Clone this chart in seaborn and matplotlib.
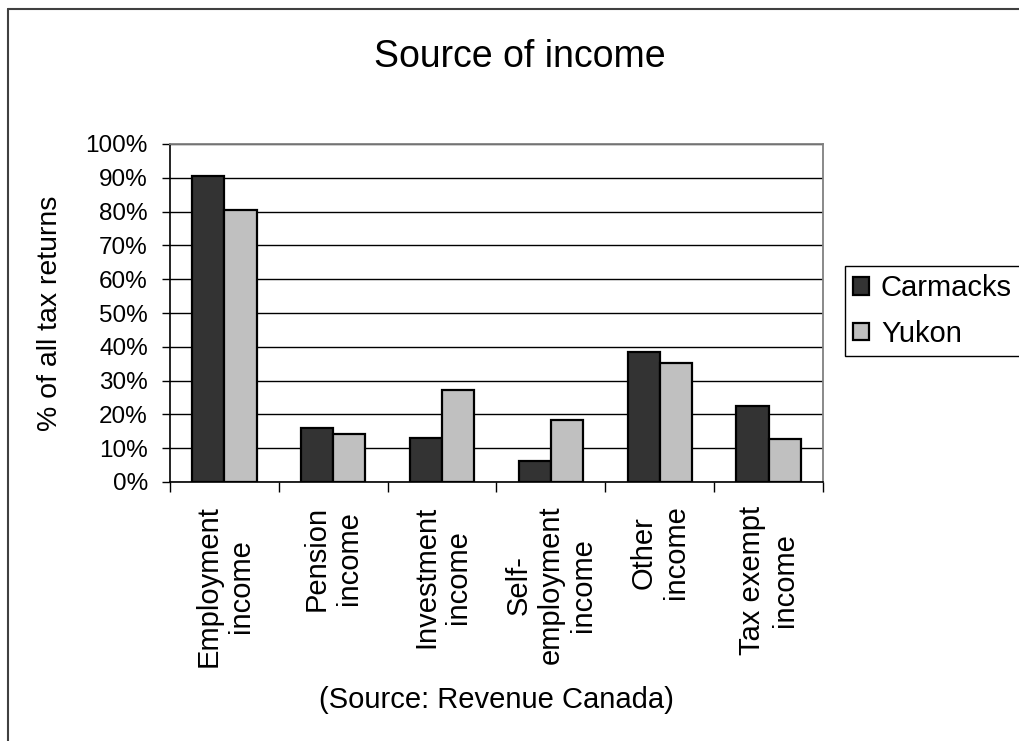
import seaborn as sns
import pandas as pd
import matplotlib.pyplot as plt
from matplotlib.lines import Line2D
from matplotlib.ticker import FuncFormatter, FixedLocator

categories = [
    "Employment\nincome",
    "Pension\nincome",
    "Investment\nincome",
    "Self-\nemployment\nincome",
    "Other\nincome",
    "Tax exempt\nincome",
]
carmacks = [90.4, 15.9, 12.9, 6.3, 38.4, 22.4]
yukon = [80.5, 14.2, 27.2, 18.3, 35.3, 12.8]
regions = ["Carmacks", "Yukon"]
colors = ["#333333", "#c0c0c0"]

df = pd.DataFrame({
    "category": categories * 2,
    "region": [regions[0]] * len(categories) + [regions[1]] * len(categories),
    "value": carmacks + yukon,
})

sns.set_style("white")
plt.rcParams["font.family"] = ["Liberation Sans", "DejaVu Sans"]
plt.rcParams.update({
    "text.color": "black",
    "axes.labelcolor": "black",
    "xtick.color": "black",
    "ytick.color": "black",
})

fig = plt.figure(figsize=(10.2, 7.41), dpi=100)
ax = fig.add_axes([170 / 1020, 259 / 741, 653 / 1020, 338 / 741])

sns.barplot(
    data=df, x="category", y="value", hue="region",
    palette=colors, edgecolor="black", linewidth=1.6,
    width=0.59, errorbar=None, ax=ax,
)

ax.set_xlim(-0.5, 5.5)
ax.set_ylim(0, 100)
ax.set_axisbelow(True)

# y axis
ax.set_yticks(range(0, 101, 10))
ax.yaxis.set_major_formatter(FuncFormatter(lambda v, p: f"{int(v)}%"))
ax.tick_params(axis="y", which="major", direction="out", length=6, width=1,
               color="black", pad=10, labelsize=17.5, left=True)
ax.yaxis.grid(True, color="black", linewidth=1)
ax.xaxis.grid(False)

# x axis: labels at centres, ticks at boundaries
ax.tick_params(axis="x", which="major", length=0, pad=17, labelsize=21,
               labelrotation=90)
ax.xaxis.set_minor_locator(FixedLocator([i - 0.5 for i in range(len(categories) + 1)]))
ax.tick_params(axis="x", which="minor", direction="out", length=7, width=1,
               color="black", bottom=True)
for lbl in ax.get_xticklabels():
    lbl.set_multialignment("center")

for side in ["top", "right"]:
    ax.spines[side].set_color("#808080")
    ax.spines[side].set_linewidth(1.3)
for side in ["left", "bottom"]:
    ax.spines[side].set_color("black")
    ax.spines[side].set_linewidth(1.2)

ax.set_xlabel("(Source: Revenue Canada)", fontsize=21)
ax.xaxis.set_label_coords(0.5, -0.604)
ax.set_ylabel("% of all tax returns", fontsize=20.5)
ax.yaxis.set_label_coords(-0.164, 0.5)

fig.text(520 / 1020, 1 - 67 / 741, "Source of income", fontsize=27,
         ha="center", va="baseline")

handles, labels = ax.get_legend_handles_labels()
ax.legend(
    handles, labels, loc="upper left",
    bbox_to_anchor=(845 / 1020, 1 - 266 / 741), bbox_transform=fig.transFigure,
    fontsize=21, frameon=True, fancybox=False, edgecolor="black",
    framealpha=1, handlelength=0.55, handleheight=0.55, handletextpad=0.4,
    labelspacing=0.6, borderpad=0.28, borderaxespad=0,
)
ax.get_legend().get_frame().set_linewidth(1)

# outer chart border (left and top edges visible)
fig.add_artist(Line2D([8 / 1020, 8 / 1020], [0, 1 - 8.5 / 741],
                      transform=fig.transFigure, color="#404040", lw=1.5))
fig.add_artist(Line2D([8 / 1020, 1], [1 - 8.5 / 741, 1 - 8.5 / 741],
                      transform=fig.transFigure, color="#404040", lw=1.5))

fig.savefig("out.png", dpi=100)
